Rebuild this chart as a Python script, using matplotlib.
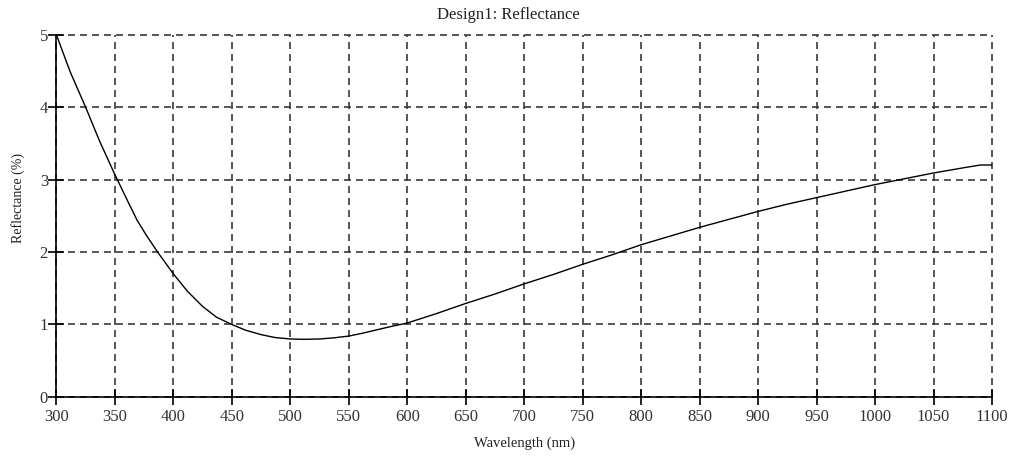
import matplotlib
matplotlib.use('Agg')
import matplotlib.pyplot as plt

# readings
wavelength = [300, 312, 325, 337, 350, 362, 369, 377, 387, 400, 412, 425, 437, 450, 462, 475,
              487, 500, 512, 525, 537, 550, 562, 575, 587, 600, 625, 650, 675, 700,
              725, 750, 775, 800, 825, 850, 875, 900, 925, 950, 975, 1000, 1025,
              1050, 1075, 1090, 1100]
reflectance = [5.0, 4.48, 4.0, 3.53, 3.07, 2.67, 2.44, 2.23, 1.99, 1.70, 1.46, 1.25, 1.10, 1.00, 0.92, 0.86,
               0.82, 0.80, 0.795, 0.80, 0.815, 0.84, 0.88, 0.93, 0.975, 1.02, 1.15, 1.29, 1.42, 1.56,
               1.69, 1.83, 1.96, 2.10, 2.22, 2.34, 2.45, 2.56, 2.66, 2.75, 2.84, 2.93, 3.01,
               3.09, 3.16, 3.20, 3.20]

xticks = list(range(300, 1101, 50))
yticks = [0, 1, 2, 3, 4, 5]

plt.rcParams['font.family'] = ['Liberation Serif', 'DejaVu Serif']

fig = plt.figure(figsize=(10.11, 4.67), dpi=100)
ax = fig.add_axes([0.0557, 0.15, 0.9255, 0.776])

ax.plot(wavelength, reflectance, color='black', linewidth=1.0, zorder=3)

ax.set_xlim(300, 1100)
ax.set_ylim(0, 5)
ax.set_xticks(xticks)
ax.set_yticks(yticks)

ax.grid(True, color='#3a3a3a', linestyle=(0, (4.2, 3.0)), linewidth=1.2)
for gl in ax.get_xgridlines() + ax.get_ygridlines():
    gl.set_clip_on(False)
for side in ['top', 'right']:
    ax.spines[side].set_visible(False)
for side in ['left', 'bottom']:
    ax.spines[side].set_linewidth(1.2)

ax.tick_params(direction='inout', length=12, width=1.2, labelsize=12,
               labelcolor='#333333')
ax.tick_params(axis='x', pad=3)
ax.tick_params(axis='y', pad=0)

ax.set_title('Design1: Reflectance', fontsize=12, color='#222222', pad=11)
ax.title.set_x(0.483)
ax.set_xlabel('Wavelength (nm)', fontsize=10.5, color='#222222', labelpad=8)
ax.set_ylabel('Reflectance (%)', fontsize=10, color='#222222')
ax.yaxis.set_label_coords(-0.033, 0.55)

fig.savefig('out.png', dpi=100)
